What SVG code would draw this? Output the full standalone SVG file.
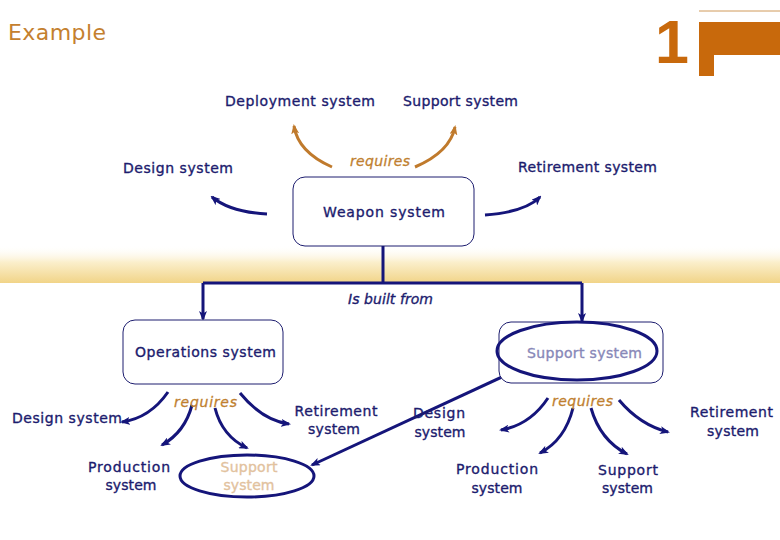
<svg xmlns="http://www.w3.org/2000/svg" width="780" height="540" viewBox="0 0 780 540">
  <defs>
    <linearGradient id="band" x1="0" y1="0" x2="0" y2="1">
      <stop offset="0" stop-color="#ffffff" stop-opacity="0"/>
      <stop offset="0.45" stop-color="#fbefcc"/>
      <stop offset="1" stop-color="#f1d488"/>
    </linearGradient>
    <marker id="ah" viewBox="0 0 10 8" refX="8" refY="4" markerWidth="10" markerHeight="8" markerUnits="userSpaceOnUse" orient="auto-start-reverse">
      <path d="M0,0 L10,4 L0,8 L2.5,4 z" fill="#15157a"/>
    </marker>
    <marker id="aho" viewBox="0 0 10 8" refX="8" refY="4" markerWidth="10" markerHeight="8" markerUnits="userSpaceOnUse" orient="auto">
      <path d="M0,0 L10,4 L0,8 L2.5,4 z" fill="#c07a2c"/>
    </marker>
  </defs>
  <style>
    .t { font-family: "DejaVu Sans", "Liberation Sans", sans-serif; font-size: 14px; fill: #1c1c6e; stroke: #1c1c6e; stroke-width: 0.35; text-anchor: middle; }
    .req { font-family: "DejaVu Sans", "Liberation Sans", sans-serif; font-size: 14px; font-style: italic; fill: #c07f30; stroke: #c07f30; stroke-width: 0.3; text-anchor: middle; }
    .it { font-style: italic; }
    .box { fill: #ffffff; stroke: #1c1c6e; stroke-width: 1; }
    .ell { fill: none; stroke: #15157a; stroke-width: 3; }
    .c { fill: none; stroke: #15157a; stroke-width: 3; }
    .co { fill: none; stroke: #c07a2c; stroke-width: 3; }
  </style>

  <rect x="0" y="245" width="780" height="38" fill="url(#band)"/>

  <g id="title">
    <text x="8" y="40" font-family="DejaVu Sans, Liberation Sans, sans-serif" font-size="22" fill="#c4802f" textLength="98">Example</text>
  </g>

  <g id="decoration">
    <line x1="699" y1="11" x2="780" y2="11" stroke="#d09a5a" stroke-width="1"/>
    <rect x="699" y="22" width="81" height="33" fill="#c8690c"/>
    <rect x="699" y="54" width="15" height="22" fill="#c8690c"/>
    <text x="655" y="63" font-family="Liberation Sans, Arial, sans-serif" font-weight="bold" font-size="61" fill="#c8690c">1</text>
  </g>

  <g id="connectors">
    <path class="co" d="M332,167 Q298,152 294,126" marker-end="url(#aho)"/>
    <path class="co" d="M415,167 Q450,152 455,127" marker-end="url(#aho)"/>
    <path class="c" d="M267,214 Q230,212 212,197" marker-end="url(#ah)"/>
    <path class="c" d="M485,215 Q525,212 540,197" marker-end="url(#ah)"/>
    <path class="c" d="M383,246 V283"/>
    <path class="c" d="M203,283 H582"/>
    <path class="c" d="M203,283 V319" marker-end="url(#ah)"/>
    <path class="c" d="M582,283 V321" marker-end="url(#ah)"/>
    <path class="c" d="M168,392 Q150,418 122,422" marker-end="url(#ah)"/>
    <path class="c" d="M192,405 Q185,432 162,445" marker-end="url(#ah)"/>
    <path class="c" d="M215,408 Q222,436 247,448" marker-end="url(#ah)"/>
    <path class="c" d="M240,393 Q262,420 289,424" marker-end="url(#ah)"/>
    <path class="c" d="M548,398 Q530,425 501,430" marker-end="url(#ah)"/>
    <path class="c" d="M573,408 Q565,440 540,453" marker-end="url(#ah)"/>
    <path class="c" d="M591,408 Q600,440 627,454" marker-end="url(#ah)"/>
    <path class="c" d="M619,400 Q640,425 668,432" marker-end="url(#ah)"/>
    <path class="c" d="M312,465 L517,370" marker-start="url(#ah)" marker-end="url(#ah)"/>
  </g>

  <g id="deployment-system"><text class="t" x="300" y="106" textLength="150">Deployment system</text></g>
  <g id="support-system-top"><text class="t" x="460.5" y="106" textLength="115">Support system</text></g>
  <g id="design-system-top"><text class="t" x="178" y="173" textLength="110">Design system</text></g>
  <g id="requires-top"><text class="req" x="380" y="166" textLength="60">requires</text></g>
  <g id="retirement-system-top"><text class="t" x="587.5" y="172" textLength="139">Retirement system</text></g>

  <g id="weapon-system">
    <rect class="box" x="293" y="177" width="181" height="69" rx="12"/>
    <text class="t" x="384" y="217" textLength="122">Weapon system</text>
  </g>

  <g id="is-built-from"><text class="t it" x="390.5" y="304" textLength="85">Is built from</text></g>

  <g id="operations-system">
    <rect class="box" x="123" y="320" width="160" height="64" rx="12"/>
    <text class="t" x="205.5" y="357" textLength="141">Operations system</text>
  </g>

  <g id="support-system-main">
    <rect class="box" x="499" y="322" width="164" height="61" rx="12"/>
    <ellipse class="ell" cx="577" cy="351" rx="80" ry="29"/>
    <text class="t" x="584.5" y="358" textLength="115" style="fill:#8888b8;stroke:#8888b8">Support system</text>
  </g>

  <g id="requires-left"><text class="req" x="205.5" y="407" textLength="63">requires</text></g>
  <g id="design-system-left"><text class="t" x="67" y="423" textLength="110">Design system</text></g>
  <g id="production-system-left">
    <text class="t" x="129" y="472" textLength="82">Production</text>
    <text class="t" x="131" y="490" textLength="51">system</text>
  </g>
  <g id="support-system-left">
    <ellipse class="ell" cx="247" cy="476" rx="67" ry="21"/>
    <text class="t" x="249" y="472" textLength="57" style="fill:#e2c29e;stroke:#e2c29e">Support</text>
    <text class="t" x="249" y="490" textLength="51" style="fill:#e2c29e;stroke:#e2c29e">system</text>
  </g>
  <g id="retirement-system-left">
    <text class="t" x="336" y="416" textLength="83">Retirement</text>
    <text class="t" x="334" y="434" textLength="52">system</text>
  </g>

  <g id="requires-right"><text class="req" x="582.5" y="406" textLength="61">requires</text></g>
  <g id="design-system-right">
    <text class="t" x="439" y="418" textLength="52">Design</text>
    <text class="t" x="440" y="437" textLength="51">system</text>
  </g>
  <g id="production-system-right">
    <text class="t" x="497" y="474" textLength="82">Production</text>
    <text class="t" x="497" y="493" textLength="51">system</text>
  </g>
  <g id="support-system-right">
    <text class="t" x="628" y="475" textLength="60">Support</text>
    <text class="t" x="627.5" y="493" textLength="51">system</text>
  </g>
  <g id="retirement-system-right">
    <text class="t" x="731.5" y="417" textLength="83">Retirement</text>
    <text class="t" x="733" y="436" textLength="52">system</text>
  </g>
</svg>
